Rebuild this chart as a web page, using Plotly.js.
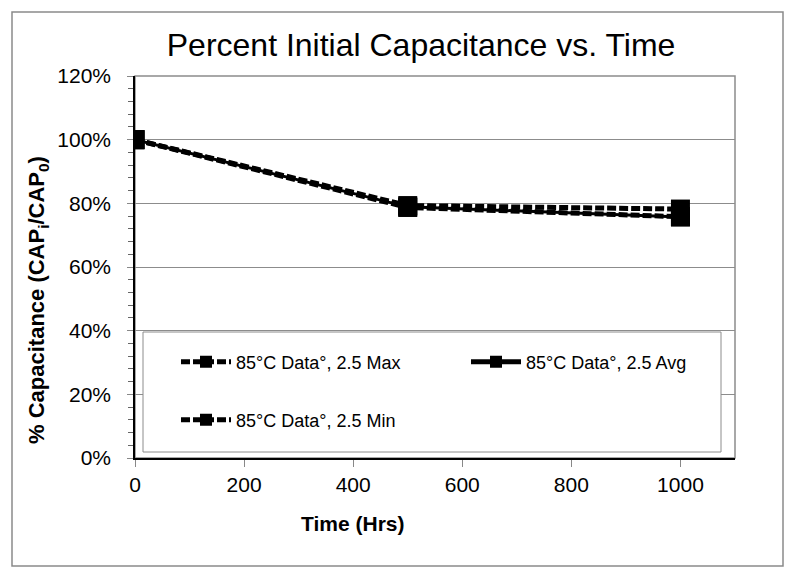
<!DOCTYPE html>
<html>
<head>
<meta charset="utf-8">
<script src="https://cdn.plot.ly/plotly-3.0.1.min.js"></script>
<style>html,body{margin:0;padding:0;background:#fff;}</style>
</head>
<body>
<div id="chart" style="width:799px;height:573px;"></div>
<script>
const timeHrs = [0, 500, 1000];
const capMax = [1.00, 0.793, 0.782];
const capAvg = [1.00, 0.789, 0.757];
const capMin = [1.00, 0.787, 0.758];
const seriesNames = ["85°C Data°, 2.5 Max", "85°C Data°, 2.5 Avg", "85°C Data°, 2.5 Min"];
const xTicks = [0, 200, 400, 600, 800, 1000];
const yTicks = [0, 0.2, 0.4, 0.6, 0.8, 1.0, 1.2];
const yTickText = ["0%", "20%", "40%", "60%", "80%", "100%", "120%"];

const font = "Liberation Sans, Arial, sans-serif";
const L = 135, R = 735, T = 76, B = 458, W = 799, H = 573;
const px = x => (x - L) / (R - L);
const py = y => (B - y) / (B - T);

const traces = [
  {x: timeHrs, y: capMax, name: seriesNames[0], mode: 'lines+markers', legend: 'legend',
   line: {color: '#000', width: 5, dash: '9px,3px'}, marker: {symbol: 'square', size: 19, color: '#000'}},
  {x: timeHrs, y: capAvg, name: seriesNames[1], mode: 'lines+markers', legend: 'legend2',
   line: {color: '#000', width: 3}, marker: {symbol: 'square', size: 19, color: '#000'}},
  {x: timeHrs, y: capMin, name: seriesNames[2], mode: 'lines+markers', legend: 'legend3',
   line: {color: '#000', width: 5, dash: '9px,3px'}, marker: {symbol: 'square', size: 19, color: '#000'}}
];

const legendBase = {
  orientation: 'v', bgcolor: 'rgba(0,0,0,0)', borderwidth: 0, itemwidth: 50,
  font: {family: font, size: 18, color: '#000'}, xanchor: 'left', yanchor: 'middle', itemsizing: 'constant'
};

const layout = {
  width: W, height: H,
  margin: {l: L, r: W - R, t: T, b: H - B, pad: 0},
  paper_bgcolor: '#fff', plot_bgcolor: '#fff',
  font: {family: font, color: '#000'},
  showlegend: true,
  title: {text: 'Percent Initial Capacitance vs. Time', font: {family: font, size: 32, color: '#000'},
          x: 0.527, xanchor: 'center', y: 0.921, yanchor: 'middle'},
  xaxis: {
    range: [0, 1100], tickvals: xTicks, ticktext: xTicks.map(String),
    showgrid: false, zeroline: false, showline: true, linecolor: '#000', linewidth: 1.5,
    ticks: 'outside', ticklen: 7, tickcolor: '#888', tickwidth: 1,
    tickfont: {family: font, size: 21, color: '#000'}
  },
  yaxis: {
    range: [0, 1.2], tickvals: yTicks, ticktext: yTickText,
    showgrid: true, gridcolor: '#8c8c8c', gridwidth: 1, zeroline: false,
    showline: true, linecolor: '#000', linewidth: 1.5,
    ticks: 'outside', ticklen: 6, tickcolor: '#888', tickwidth: 1, ticklabelstandoff: 12,
    tickfont: {family: font, size: 21, color: '#000'},
    minor: {dtick: 0.04, tick0: 0, ticks: 'outside', ticklen: 5, tickcolor: '#666', showgrid: false}
  },
  legend: Object.assign({}, legendBase, {x: px(176), y: py(362)}),
  legend2: Object.assign({}, legendBase, {x: px(466), y: py(362)}),
  legend3: Object.assign({}, legendBase, {x: px(176), y: py(420)}),
  shapes: [
    {type: 'rect', xref: 'paper', yref: 'paper', x0: px(12), x1: px(783), y0: py(566), y1: py(12),
     line: {color: '#8a8a8a', width: 1.5}, fillcolor: 'rgba(0,0,0,0)', layer: 'below'},
    {type: 'rect', xref: 'paper', yref: 'paper', x0: 0, x1: 1, y0: 0, y1: 1,
     line: {color: '#8c8c8c', width: 1.5}, fillcolor: 'rgba(0,0,0,0)', layer: 'below'},
    {type: 'rect', xref: 'paper', yref: 'paper', x0: px(143), x1: px(721), y0: py(452), y1: py(332),
     line: {color: '#8c8c8c', width: 1}, fillcolor: '#fff', layer: 'above'}
  ],
  annotations: [
    {text: '<b>Time (Hrs)</b>', xref: 'paper', yref: 'paper', x: px(352), y: py(523),
     showarrow: false, xanchor: 'center', yanchor: 'middle', font: {family: font, size: 21, color: '#000'}},
    {text: '<b>% Capacitance (CAP<sub>i</sub>/CAP<sub>0</sub>)</b>', xref: 'paper', yref: 'paper',
     x: px(38), y: py(300), textangle: -90, showarrow: false, xanchor: 'center', yanchor: 'middle',
     font: {family: font, size: 22, color: '#000'}}
  ]
};

Plotly.newPlot('chart', traces, layout, {displayModeBar: false, responsive: false});
</script>
</body>
</html>
